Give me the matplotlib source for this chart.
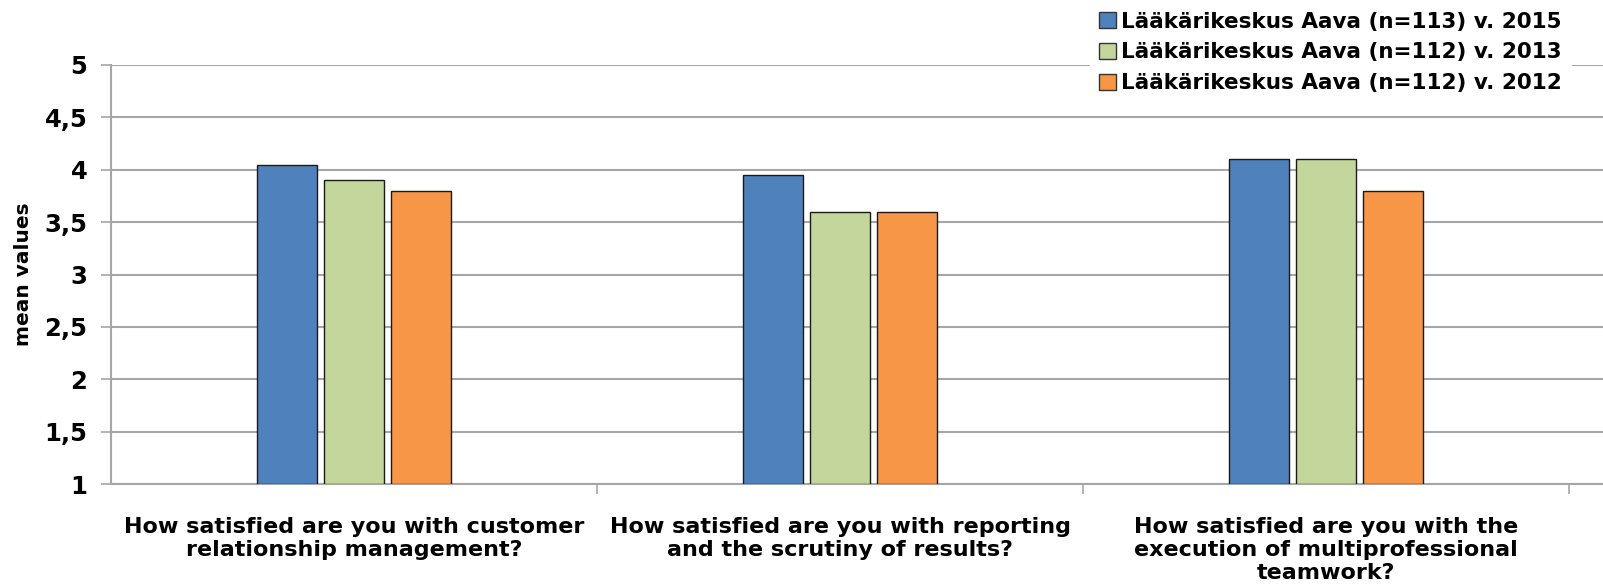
import matplotlib
matplotlib.use("Agg")
import matplotlib.pyplot as plt
import numpy as np

categories = [
    "How satisfied are you with customer\nrelationship management?",
    "How satisfied are you with reporting\nand the scrutiny of results?",
    "How satisfied are you with the\nexecution of multiprofessional\nteamwork?",
]
series_names = [
    "Lääkärikeskus Aava (n=113) v. 2015",
    "Lääkärikeskus Aava (n=112) v. 2013",
    "Lääkärikeskus Aava (n=112) v. 2012",
]
values_2015 = [4.05, 3.95, 4.1]
values_2013 = [3.9, 3.6, 4.1]
values_2012 = [3.8, 3.6, 3.8]
colors = ["#4F81BD", "#C3D69B", "#F79646"]
yticks = [1, 1.5, 2, 2.5, 3, 3.5, 4, 4.5, 5]
ytick_labels = ["1", "1,5", "2", "2,5", "3", "3,5", "4", "4,5", "5"]

plt.rcParams['font.family'] = ['DejaVu Sans']
fig = plt.figure(figsize=(16.03, 5.87), dpi=100)
ax = fig.add_axes([111/1603, 103/587, 1 - 111/1603, (484-65)/587])

x = np.arange(len(categories))
step = 0.138
width = 0.123
for i, (vals, name, c) in enumerate(zip([values_2015, values_2013, values_2012], series_names, colors)):
    ax.bar(x + (i - 1) * step, np.array(vals) - 1, width, bottom=1, color=c,
           edgecolor="#1a1a1a", linewidth=1.0, label=name, zorder=3)

ax.set_ylim(1, 5)
ax.set_xlim(-0.5, 2.5 + 34/486)
ax.set_yticks(yticks)
ax.set_yticklabels(ytick_labels, fontsize=17.5, fontweight="bold")
ax.yaxis.grid(True, color="#a6a6a6", linewidth=1.5, zorder=0)
ax.set_axisbelow(True)

ax.set_xticks(x)
ax.set_xticklabels(categories, fontsize=16, fontweight="bold", linespacing=1.17)
ax.tick_params(axis="x", length=0, pad=24)
ax.set_xticks([0.5, 1.5, 2.5], minor=True)
ax.tick_params(axis="x", which="minor", length=7, color="#a6a6a6", width=1.2)
ax.tick_params(axis="y", length=7, color="#a6a6a6", width=1.2, pad=10)

for s in ["top", "right"]:
    ax.spines[s].set_visible(False)
for s in ["left", "bottom"]:
    ax.spines[s].set_color("#a6a6a6")
    ax.spines[s].set_linewidth(1.5)

ax.set_ylabel("mean values", fontsize=14.5, fontweight="bold", labelpad=8)

leg = fig.legend(loc="upper right", bbox_to_anchor=(0.983, 1.004), frameon=True,
                 prop={"size": 15.5, "weight": "bold"}, handlelength=0.75, handleheight=0.75,
                 handletextpad=0.25, labelspacing=0.5, borderpad=0.45, borderaxespad=0.2)
leg.get_frame().set_facecolor("white")
leg.get_frame().set_edgecolor("white")
leg.get_frame().set_alpha(1)
for h in leg.legend_handles:
    h.set_edgecolor("#333333")

fig.savefig("out.png", dpi=100)
